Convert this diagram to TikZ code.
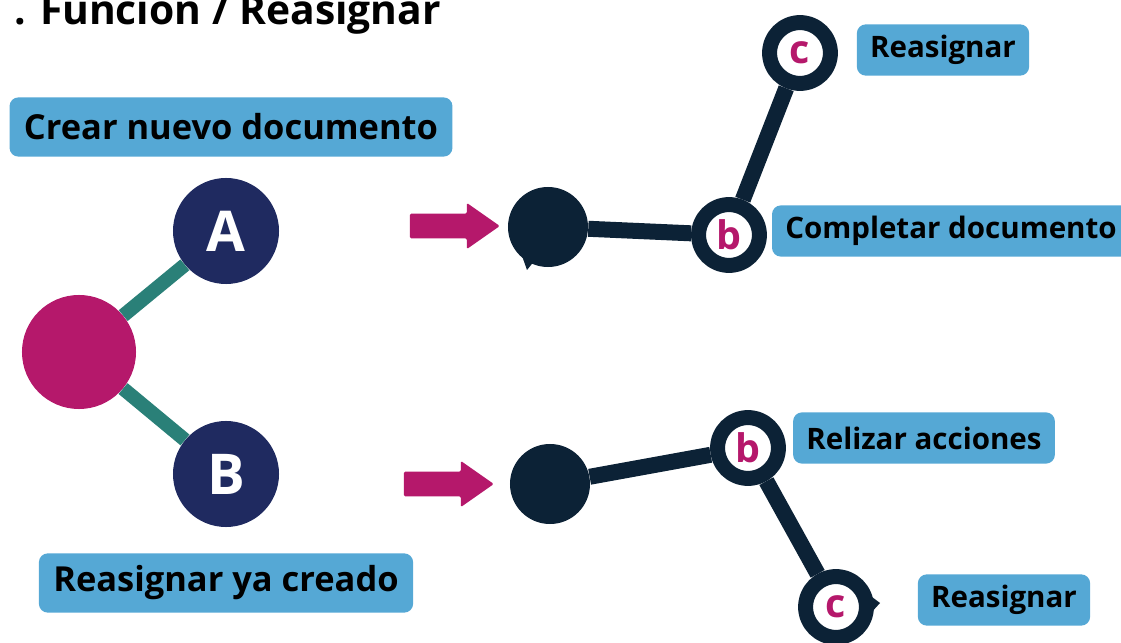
\documentclass[tikz,border=0pt]{standalone}
\usepackage{fontspec}
\setmainfont{Open Sans}
\usepackage{xcolor}
\usetikzlibrary{shapes,calc,positioning}
\definecolor{mag}{RGB}{181,24,107}
\definecolor{navy}{RGB}{31,42,96}
\definecolor{oscuro}{RGB}{12,34,54}
\definecolor{verde}{RGB}{42,128,120}
\definecolor{celeste}{RGB}{85,168,213}
\begin{document}
\begin{tikzpicture}[x=0.025cm,y=-0.025cm]
  \tikzset{ et/.style={fill=celeste,rounded corners=0.22cm,text=black,font=\bfseries\fontsize{21}{25}\selectfont,inner xsep=0.33cm,minimum height=1.28cm},
    etg/.style={et,font=\bfseries\fontsize{24.5}{29}\selectfont,inner xsep=0.36cm,minimum height=1.48cm},
    letra/.style={circle,fill=navy,text=white,font=\bfseries\fontsize{40}{40}\selectfont,minimum size=2.65cm,inner sep=0pt},
    punto/.style={circle,fill=oscuro,minimum size=2cm,inner sep=0pt},
    anillo/.style={circle,draw=oscuro,line width=0.375cm,fill=white,text=mag,font=\bfseries\fontsize{28}{28}\selectfont,minimum size=1.52cm,inner sep=0pt},
    flecha/.style={single arrow,fill=mag,minimum height=2.25cm,inner xsep=0pt,inner ysep=0.3cm,single arrow head extend=0.27cm,single arrow tip angle=70,rounded corners=1pt},
    rama/.style={line width=0.35cm,verde},
    via/.style={line width=0.4cm,oscuro},
  }
  \useasboundingbox (0,0) rectangle (1121,643);
  \node[anchor=base west,inner sep=0pt,font=\bfseries\fontsize{29}{34}\selectfont] (titulo) at (14,25) {. Funcion / Reasignar};

  % lado izquierdo
  \node[circle,fill=mag,minimum size=2.85cm,inner sep=0pt] (raiz) at (79,352) {};
  \node[letra] (A) at (226,231) {A};
  \node[letra] (B) at (226,474) {B};
  \draw[rama] (raiz) -- (A);
  \draw[rama] (raiz) -- (B);
  \node[etg] (crear) at (231,127) {Crear nuevo documento};
  \node[etg] (creado) at (226,583) {Reasignar ya creado};

  % flechas
  \node[flecha] (f1) at (446,226) {};
  \node[flecha] (f2) at (440,484) {};

  % camino de arriba
  \node[punto] (p1) at (548,227) {};
  \fill[oscuro] (521,253) -- (527,270) -- (535,260) -- cycle;
  \node[anillo] (b1) at (729,235) {b};
  \node[anillo] (c1) at (800,53) {c};
  \draw[via] (p1) -- (b1);
  \draw[via] (b1) -- (c1);
  \node[et] (r1) at (943,50) {Reasignar};
  \node[et] (comp) at (951,231) {Completar documento};

  % camino de abajo
  \node[punto] (p2) at (550,484) {};
  \node[anillo] (b2) at (748,448) {b};
  \node[anillo] (c2) at (836,607) {c};
  \fill[oscuro] (868,594) -- (880,603) -- (870,614) -- cycle;
  \draw[via] (p2) -- (b2);
  \draw[via] (b2) -- (c2);
  \node[et] (acc) at (924,438) {Relizar acciones};
  \node[et] (r2) at (1004,600) {Reasignar};
\end{tikzpicture}
\end{document}
